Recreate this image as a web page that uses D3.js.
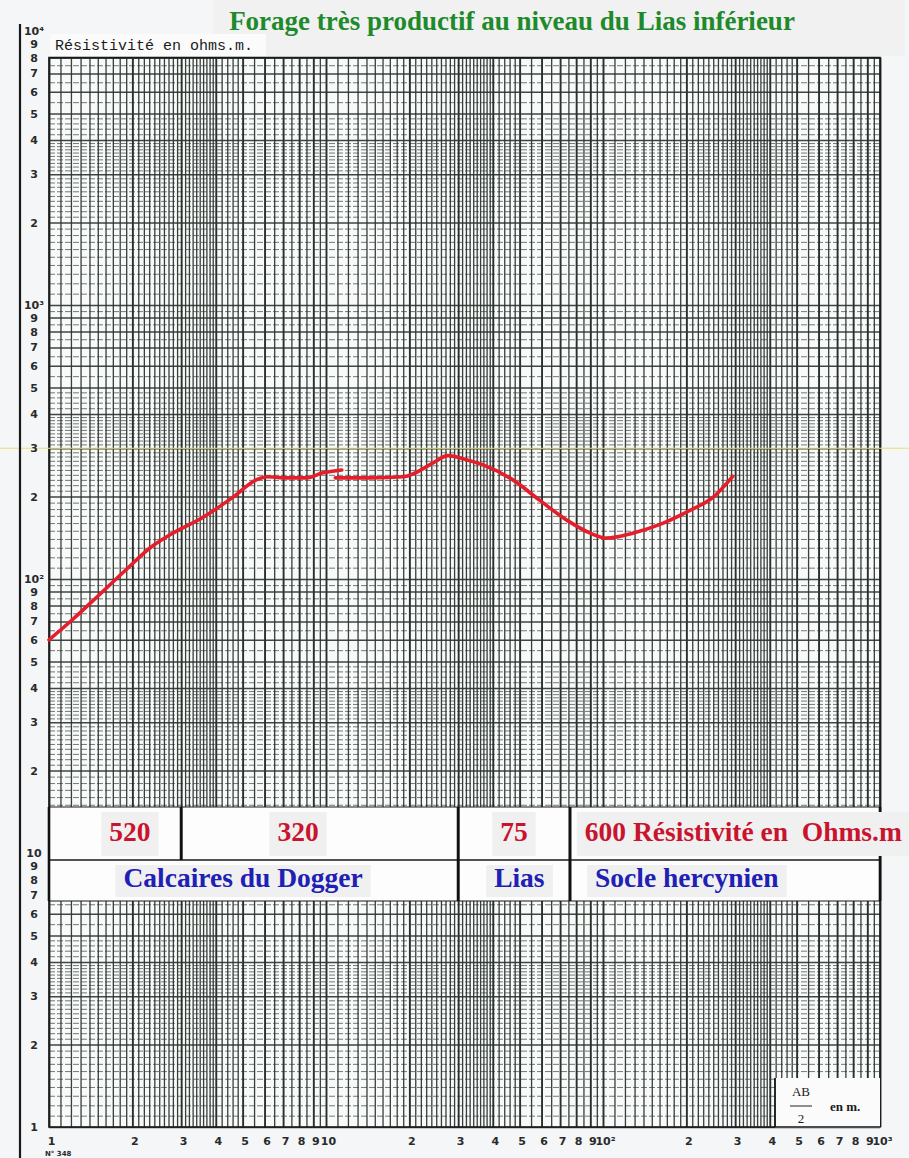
<!DOCTYPE html>
<html>
<head>
<meta charset="utf-8">
<script src="https://cdn.jsdelivr.net/npm/d3@7"></script>
<style>
  html, body { margin: 0; padding: 0; background: #f4f6f8; }
  svg { display: block; }
  .lbl { font-family: "DejaVu Sans", sans-serif; font-weight: bold; font-size: 11px; fill: #2a2a2a; }
  .serif { font-family: "Liberation Serif", "Times New Roman", serif; font-weight: bold; }
</style>
</head>
<body>
<svg id="chart" width="909" height="1158"></svg>
<script>
// Sounding curve: half-spacing AB/2 (m) against apparent resistivity (ohm.m)
const curveNear = [
  [1.0, 60], [1.22, 71.3], [1.49, 86], [1.91, 108.8], [2.32, 130], [2.8, 147],
  [3.6, 168], [4.62, 199], [5.6, 230], [6.2, 236], [7.0, 234], [8.5, 234], [9.75, 244], [11.4, 250]
];
const curveFar = [
  [10.8, 234], [14.4, 234], [19.0, 236], [21.0, 244], [24.0, 263], [27.6, 282],
  [32.3, 272], [36.9, 261], [47.3, 230], [59.0, 194], [74.0, 164], [90.0, 147],
  [103, 141], [128, 147], [165, 160], [206, 178], [250, 199], [294, 237]
];

// Layer table: cell limits and label anchors in AB/2 units
const layerResist = [
  { text: "520", from: 1, to: 3, at: 1.96, anchor: "middle" },
  { text: "320", from: 3, to: 30, at: 7.93, anchor: "middle" },
  { text: "75", from: 30, to: 76, at: 47.7, anchor: "middle" },
  { text: "600 Résistivité en  Ohms.m", from: 76, to: 1000, at: 86, anchor: "start" }
];
const layerNames = [
  { text: "Calcaires du Dogger", from: 1, to: 30, at: 5.02, anchor: "middle" },
  { text: "Lias", from: 30, to: 76, at: 49.9, anchor: "middle" },
  { text: "Socle hercynien", from: 76, to: 1000, at: 93.6, anchor: "start" }
];

// Axis labelling
const xLabelValues = [1,2,3,4,5,6,7,8,9,10,20,30,40,50,60,70,80,90,100,200,300,400,500,600,700,800,900,1000];
const yLabelValues = [1,2,3,4,5,6,7,8,9,10,20,30,40,50,60,70,80,90,100,200,300,400,500,600,700,800,900,1000,
                      2000,3000,4000,5000,6000,7000,8000,9000,10000];
const decadeNames = { 1: "1", 10: "10", 100: "10²", 1000: "10³", 10000: "10⁴" };

const titleText = "Forage très productif au niveau du Lias inférieur";

const svg = d3.select("#chart");
const W = 909, H = 1158;

const x = d3.scaleLog().domain([1, 1000]).range([49, 880]);
const y = d3.scaleLog().domain([1, 10000]).range([1127, 31]);
const gridTopVal = 8000;
const gTop = y(gridTopVal), gBot = y(1), gLeft = x(1), gRight = x(1000);

// Log-paper rulings: fine steps low in each decade, coarser ones higher up
function rulings(maxVal) {
  const out = [];
  for (let base = 1; base < maxVal; base *= 10) {
    const steps = [[1, 4, 0.1], [4, 5, 0.2], [5, 10, 0.5]];
    for (const [a, b, s] of steps) {
      for (let m = a; m < b - 1e-9; m += s) {
        const v = +(m * base).toPrecision(6);
        if (v <= maxVal) out.push(v);
      }
    }
  }
  out.push(maxVal);
  return out;
}
const mant = v => v / Math.pow(10, Math.floor(Math.log10(v) + 1e-9));
const isMajor = v => Math.abs(mant(v) - Math.round(mant(v))) < 1e-6;
const digitLabel = d => decadeNames[d] || String(Math.round(mant(d)));

// page + paper
svg.append("rect").attr("width", W).attr("height", H).attr("fill", "#f4f6f8");
svg.append("rect").attr("x", 213).attr("y", 0).attr("width", 692).attr("height", 56).attr("fill", "#f1f1f1");
svg.append("rect").attr("x", gLeft).attr("y", gTop).attr("width", gRight - gLeft).attr("height", gBot - gTop)
  .attr("fill", "#f8f9f9");

// vertical rulings
const xr = rulings(1000);
svg.append("g")
  .attr("transform", `translate(0,${gBot})`)
  .call(d3.axisBottom(x).tickValues(xr).tickSize(-(gBot - gTop)).tickFormat(""))
  .call(g => g.select(".domain").remove())
  .call(g => g.selectAll(".tick line")
    .attr("stroke", "#1c2620")
    .attr("stroke-width", d => isMajor(d) ? 1.9 : 1.3)
    .attr("opacity", d => isMajor(d) ? 0.95 : 0.88));

// horizontal rulings
const yr = rulings(gridTopVal).filter(v => v <= gridTopVal);
svg.append("g")
  .attr("transform", `translate(${gLeft},0)`)
  .call(d3.axisLeft(y).tickValues(yr).tickSize(-(gRight - gLeft)).tickFormat(""))
  .call(g => g.select(".domain").remove())
  .call(g => g.selectAll(".tick line")
    .attr("stroke", "#2a332e")
    .attr("stroke-width", d => isMajor(d) ? 1.5 : 0.9)
    .attr("stroke-dasharray", d => isMajor(d) ? null : "6,2")
    .attr("opacity", d => isMajor(d) ? 0.9 : 0.72));

// paper frame
svg.append("rect").attr("x", gLeft).attr("y", gTop).attr("width", gRight - gLeft).attr("height", gBot - gTop)
  .attr("fill", "none").attr("stroke", "#1a1a1a").attr("stroke-width", 1.6);

// guide line across the sheet at 300 ohm.m
svg.append("line").attr("x1", 0).attr("x2", W).attr("y1", y(300)).attr("y2", y(300))
  .attr("stroke", "#e8e27a").attr("stroke-width", 1);

// left ordinate rule
svg.append("line").attr("x1", 20).attr("x2", 20).attr("y1", 24).attr("y2", H)
  .attr("stroke", "#1a1a1a").attr("stroke-width", 2.2);

// ordinate labels
svg.append("g")
  .attr("transform", `translate(${gLeft},0)`)
  .call(d3.axisLeft(y).tickValues(yLabelValues).tickSize(0).tickFormat(digitLabel))
  .call(g => g.select(".domain").remove())
  .call(g => g.selectAll("text").attr("class", "lbl").attr("x", -15).attr("text-anchor", "middle"));

// abscissa labels
svg.append("g")
  .attr("transform", `translate(0,${gBot})`)
  .call(d3.axisBottom(x).tickValues(xLabelValues).tickSize(0).tickFormat(digitLabel))
  .call(g => g.select(".domain").remove())
  .call(g => g.selectAll("text").attr("class", "lbl").attr("y", 10).attr("dx", 2));

svg.append("text").attr("x", 45).attr("y", 1156).attr("class", "lbl").style("font-size", "7px").text("N° 348");

// ordinate heading
svg.append("rect").attr("x", 50).attr("y", 34).attr("width", 216).attr("height", 22).attr("fill", "#fbfbfb");
svg.append("text").attr("x", 55).attr("y", 50)
  .style("font-family", "'Liberation Mono', 'DejaVu Sans Mono', monospace").style("font-size", "15px")
  .attr("fill", "#1a1a1a").text("Résistivité en ohms.m.");

// title
svg.append("text").attr("class", "serif").attr("x", 512).attr("y", 30).attr("text-anchor", "middle")
  .style("font-size", "27px").attr("fill", "#1e8a2c").text(titleText);

// layer table band
const bandTop = 807, bandMid = 860, bandBot = 901;
svg.append("rect").attr("x", gLeft).attr("y", bandTop).attr("width", gRight - gLeft).attr("height", bandBot - bandTop)
  .attr("fill", "#fdfdfd");
[bandTop, bandMid, bandBot].forEach(v =>
  svg.append("line").attr("x1", gLeft).attr("x2", gRight).attr("y1", v).attr("y2", v)
    .attr("stroke", "#1a1a1a").attr("stroke-width", v === bandMid ? 1.6 : 1.2));

function bandCells(rows, y0, y1, color, baseline) {
  // cell separators
  rows.forEach(r => {
    [r.from, r.to].forEach(v => {
      svg.append("line").attr("x1", x(v)).attr("x2", x(v)).attr("y1", y0).attr("y2", y1)
        .attr("stroke", "#111").attr("stroke-width", 2.6);
    });
  });
  rows.forEach(r => {
    const bg = svg.append("rect").attr("fill", "#f0f0f0");
    const t = svg.append("text").attr("class", "serif").style("font-size", "27.5px")
      .style("white-space", "pre").attr("fill", color).text(r.text)
      .attr("x", x(r.at)).attr("y", baseline).attr("text-anchor", r.anchor);
    const bb = t.node().getBBox();
    bg.attr("x", bb.x - 8).attr("y", y0 + 5).attr("width", bb.width + 16).attr("height", y1 - y0 - 9);
  });
}
bandCells(layerResist, bandTop, bandMid, "#c8142e", 841);
bandCells(layerNames, bandMid, bandBot, "#2020b4", 887);

// AB/2 box
svg.append("rect").attr("x", 775).attr("y", 1078).attr("width", gRight - 775).attr("height", gBot - 1078 + 1)
  .attr("fill", "#fbfbfb");
svg.append("line").attr("x1", 775).attr("x2", 775).attr("y1", 1078).attr("y2", gBot)
  .attr("stroke", "#111").attr("stroke-width", 1.8);
svg.append("line").attr("x1", 775).attr("x2", gRight).attr("y1", gBot).attr("y2", gBot)
  .attr("stroke", "#111").attr("stroke-width", 1.6);
svg.append("text").attr("class", "serif").attr("x", 801).attr("y", 1096).attr("text-anchor", "middle")
  .style("font-size", "13px").style("font-weight", "normal").attr("fill", "#1a1a1a").text("AB");
svg.append("line").attr("x1", 790).attr("x2", 812).attr("y1", 1106).attr("y2", 1106)
  .attr("stroke", "#222").attr("stroke-width", 1);
svg.append("text").attr("class", "serif").attr("x", 801).attr("y", 1123).attr("text-anchor", "middle")
  .style("font-size", "13px").style("font-weight", "normal").attr("fill", "#1a1a1a").text("2");
svg.append("text").attr("class", "serif").attr("x", 830).attr("y", 1111)
  .style("font-size", "13px").attr("fill", "#1a1a1a").text("en m.");

// sounding curve
const line = d3.line().x(d => x(d[0])).y(d => y(d[1])).curve(d3.curveMonotoneX);
[curveNear, curveFar].forEach(seg =>
  svg.append("path").datum(seg).attr("d", line)
    .attr("fill", "none").attr("stroke", "#e41f2b").attr("stroke-width", 3.6)
    .attr("stroke-linecap", "round").attr("stroke-linejoin", "round"));
</script>
</body>
</html>
